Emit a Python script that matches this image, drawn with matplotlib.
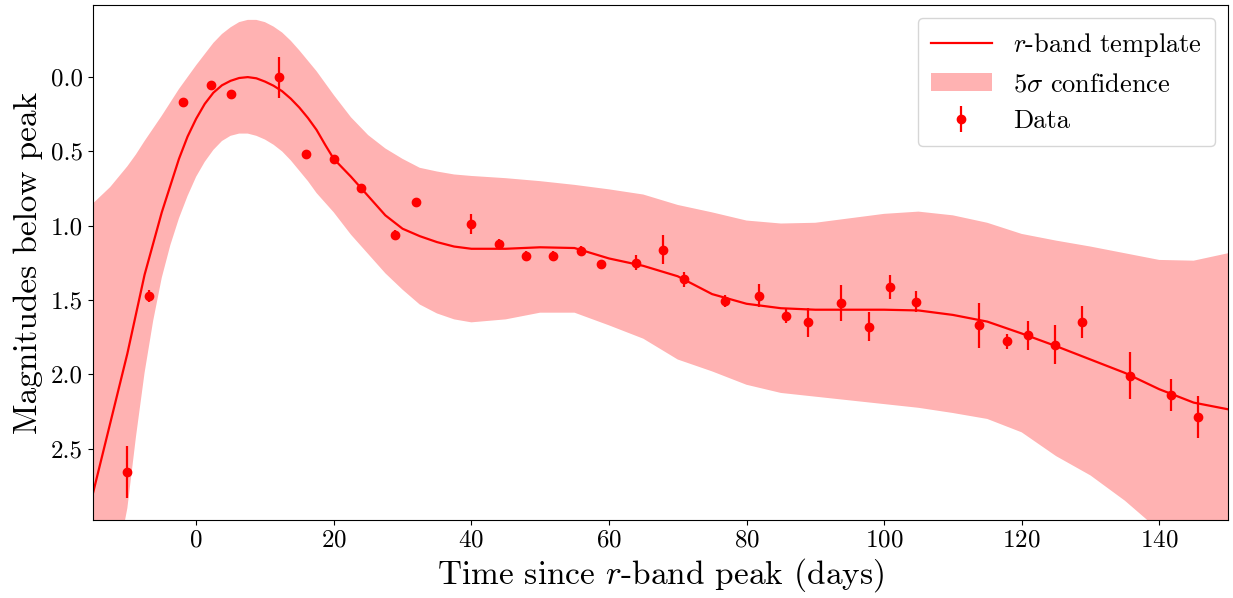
import numpy as np
import matplotlib
matplotlib.use("Agg")
import matplotlib.pyplot as plt

plt.rcParams["font.family"] = "serif"
plt.rcParams["font.serif"] = ["cmr10"]
plt.rcParams["mathtext.fontset"] = "cm"
plt.rcParams["axes.formatter.use_mathtext"] = True

# template curve
t_tmpl = [-15, -12.5, -10, -7.5, -5, -3.75, -2.5, -1.25, 0, 1.25, 2.5, 3.75, 5,
          6.25, 7.5, 8.75, 10, 11.25, 12.5, 13.75, 15, 16.25, 17.5, 18.75, 20,
          21.25, 22.5, 23.75, 25, 27.5, 30, 32.5, 35, 37.5, 40, 45, 50, 55, 60,
          65, 70, 75, 80, 85, 90, 95, 100, 105, 110, 115, 120, 125, 130, 135,
          140, 145, 150]
template = [2.80, 2.33, 1.86, 1.33, 0.91, 0.73, 0.55, 0.40, 0.28, 0.18, 0.105,
            0.055, 0.025, 0.006, 0.0, 0.008, 0.03, 0.058, 0.095, 0.145, 0.205,
            0.275, 0.355, 0.455, 0.55, 0.61, 0.67, 0.735, 0.80, 0.93, 1.02, 1.07,
            1.11, 1.14, 1.155, 1.155, 1.145, 1.15, 1.22, 1.27, 1.34, 1.46, 1.525,
            1.555, 1.565, 1.565, 1.565, 1.57, 1.60, 1.645, 1.725, 1.81, 1.90,
            1.99, 2.10, 2.19, 2.235]

# 5-sigma band edges
t_band = [-15, -12.5, -10, -8.75, -7.5, -6.25, -5, -3.75, -2.5, -1.25, 0, 1.25,
          2.5, 3.75, 5, 6.25, 7.5, 8.75, 10, 11.25, 12.5, 13.75, 15, 16.25, 17.5,
          18.75, 20, 22.5, 25, 27.5, 30, 32.5, 35, 37.5, 40, 45, 50, 55, 60, 65,
          70, 75, 80, 85, 90, 95, 100, 105, 110, 115, 120, 125, 130, 135, 140,
          145, 150]
band_hi = [0.85, 0.74, 0.60, 0.52, 0.43, 0.345, 0.26, 0.17, 0.08, 0.0, -0.08,
           -0.155, -0.23, -0.29, -0.335, -0.37, -0.385, -0.385, -0.37, -0.34,
           -0.30, -0.245, -0.18, -0.11, -0.04, 0.04, 0.12, 0.27, 0.39, 0.48, 0.55,
           0.61, 0.635, 0.655, 0.665, 0.68, 0.70, 0.725, 0.755, 0.79, 0.86, 0.91,
           0.965, 0.985, 0.98, 0.95, 0.92, 0.905, 0.93, 0.98, 1.055, 1.10, 1.14,
           1.185, 1.23, 1.235, 1.185]
band_lo = [4.0, 3.5, 2.90, 2.42, 1.99, 1.64, 1.35, 1.13, 0.95, 0.80, 0.67, 0.57,
           0.49, 0.43, 0.395, 0.38, 0.38, 0.395, 0.42, 0.455, 0.50, 0.56, 0.63,
           0.70, 0.78, 0.845, 0.91, 1.06, 1.19, 1.32, 1.43, 1.53, 1.59, 1.63,
           1.65, 1.63, 1.585, 1.585, 1.67, 1.76, 1.90, 1.98, 2.07, 2.125, 2.15,
           2.175, 2.20, 2.225, 2.26, 2.30, 2.39, 2.55, 2.68, 2.85, 3.05, 3.25, 3.45]

# photometry
t_obs = [-10.0, -6.9, -1.9, 2.1, 5.1, 12.0, 16.0, 20.0, 24.0, 28.9, 31.9, 39.9,
         44.0, 47.9, 51.9, 55.9, 58.9, 63.9, 67.9, 70.9, 76.9, 81.8, 85.8, 88.9,
         93.8, 97.8, 100.9, 104.7, 113.8, 117.8, 120.9, 124.8, 128.8, 135.7,
         141.7, 145.7]
mag_obs = [2.655, 1.47, 0.17, 0.054, 0.114, 0.002, 0.514, 0.554, 0.743, 1.062,
           0.842, 0.99, 1.122, 1.203, 1.203, 1.167, 1.255, 1.25, 1.16, 1.36, 1.508,
           1.47, 1.607, 1.65, 1.52, 1.68, 1.41, 1.51, 1.67, 1.778, 1.737, 1.80,
           1.648, 2.01, 2.137, 2.287]
mag_err = [0.175, 0.04, 0.02, 0.02, 0.02, 0.14, 0.02, 0.02, 0.02, 0.03, 0.03,
           0.067, 0.03, 0.03, 0.03, 0.03, 0.01, 0.05, 0.098, 0.05, 0.04, 0.077,
           0.05, 0.099, 0.12, 0.098, 0.08, 0.07, 0.15, 0.048, 0.099, 0.13, 0.11,
           0.158, 0.108, 0.14]

fig = plt.figure(figsize=(12.33, 5.98), dpi=100)
ax = fig.add_axes([0.0754, 0.1304, 0.9206, 0.8612])

ax.plot(t_tmpl, template, color="red", lw=1.6, label=r"$r$-band template")
ax.fill_between(t_band, band_lo, band_hi, color="red", alpha=0.3, lw=0,
                label=r"5$\sigma$ confidence")
ax.errorbar(t_obs, mag_obs, yerr=mag_err, fmt="o", color="red", ms=6,
            elinewidth=1.6, capsize=0, label="Data")

ax.set_xlim(-15, 150)
ax.set_ylim(2.98, -0.485)
ax.set_yticks([0.0, 0.5, 1.0, 1.5, 2.0, 2.5])
ax.set_yticklabels(["0.0", "0.5", "1.0", "1.5", "2.0", "2.5"])
ax.tick_params(labelsize=18)
ax.set_xlabel(r"Time since $r$-band peak (days)", fontsize=24, labelpad=3)
ax.set_ylabel("Magnitudes below peak", fontsize=24, labelpad=6)
ax.legend(loc="upper right", fontsize=19, handlelength=2.3, borderpad=0.5)

fig.savefig("out.png", dpi=100)
